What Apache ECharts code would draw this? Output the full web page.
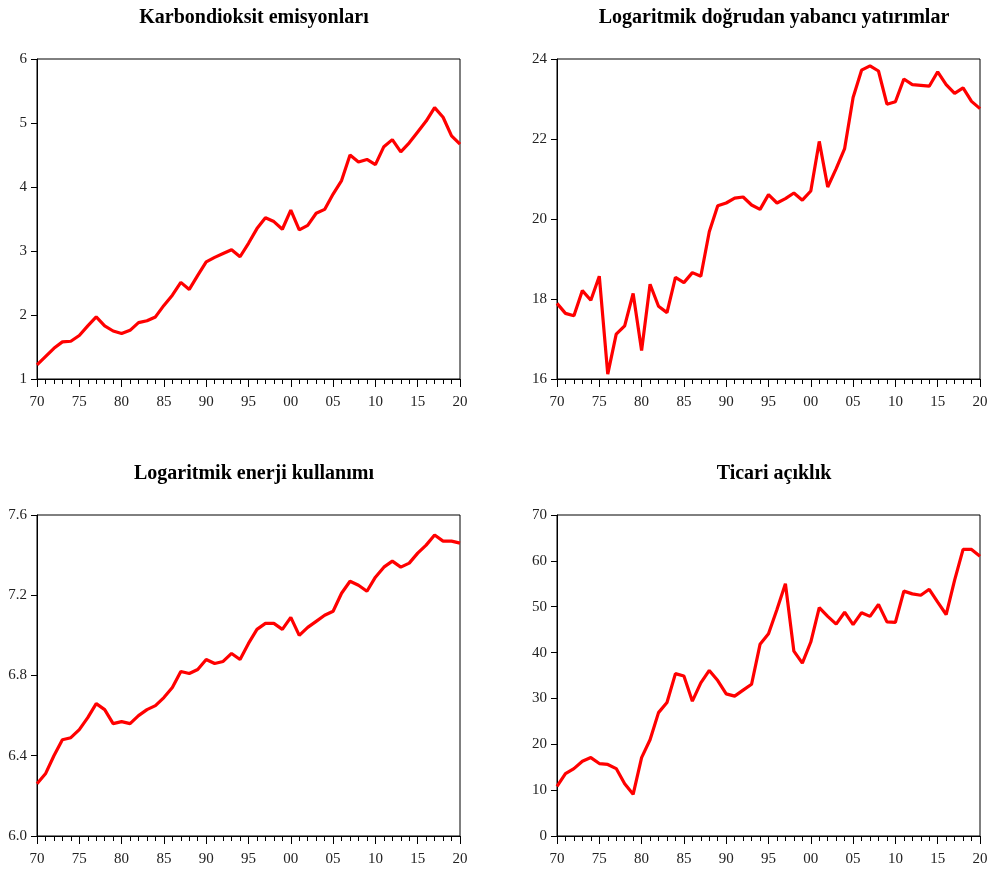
<!DOCTYPE html>
<html>
<head>
<meta charset="utf-8">
<script src="https://cdn.jsdelivr.net/npm/echarts@6/dist/echarts.min.js"></script>
<style>
html,body{margin:0;padding:0;background:#fff;}
#chart{width:992px;height:872px;}
</style>
</head>
<body>
<div id="chart"></div>
<script>
var years = [1970,1971,1972,1973,1974,1975,1976,1977,1978,1979,1980,1981,1982,1983,1984,1985,1986,1987,1988,1989,1990,1991,1992,1993,1994,1995,1996,1997,1998,1999,2000,2001,2002,2003,2004,2005,2006,2007,2008,2009,2010,2011,2012,2013,2014,2015,2016,2017,2018,2019,2020];

var titles = ["Karbondioksit emisyonları","Logaritmik doğrudan yabancı yatırımlar","Logaritmik enerji kullanımı","Ticari açıklık"];

var co2 = [1.22,1.35,1.48,1.58,1.59,1.68,1.83,1.97,1.83,1.75,1.71,1.76,1.88,1.91,1.97,2.15,2.31,2.51,2.40,2.62,2.83,2.90,2.96,3.02,2.91,3.12,3.35,3.52,3.46,3.34,3.64,3.33,3.40,3.59,3.65,3.89,4.10,4.50,4.39,4.43,4.35,4.63,4.74,4.55,4.69,4.86,5.03,5.24,5.09,4.80,4.67];

var fdi = [17.89,17.64,17.58,18.21,17.97,18.57,16.12,17.12,17.33,18.14,16.71,18.37,17.82,17.66,18.54,18.41,18.66,18.57,19.68,20.33,20.40,20.52,20.55,20.35,20.24,20.61,20.40,20.51,20.65,20.47,20.70,21.94,20.80,21.26,21.76,23.04,23.72,23.83,23.70,22.87,22.93,23.50,23.36,23.34,23.32,23.68,23.36,23.14,23.28,22.94,22.76];

var energy = [6.26,6.31,6.40,6.48,6.49,6.53,6.59,6.66,6.63,6.56,6.57,6.56,6.60,6.63,6.65,6.69,6.74,6.82,6.81,6.83,6.88,6.86,6.87,6.91,6.88,6.96,7.03,7.06,7.06,7.03,7.09,7.00,7.04,7.07,7.10,7.12,7.21,7.27,7.25,7.22,7.29,7.34,7.37,7.34,7.36,7.41,7.45,7.50,7.47,7.47,7.46];

var trade = [10.8,13.6,14.7,16.3,17.1,15.8,15.6,14.7,11.4,9.1,17.1,21.0,26.9,29.1,35.4,34.9,29.4,33.4,36.1,33.9,31.0,30.5,31.8,33.1,41.8,44.1,49.4,55.0,40.3,37.7,42.3,49.8,47.9,46.2,48.8,46.1,48.7,47.9,50.5,46.7,46.6,53.4,52.8,52.5,53.8,51.0,48.3,55.8,62.5,62.5,61.0];

var yMin = [1, 16, 6.0, 0];
var yMax = [6, 24, 7.6, 70];
var yInterval = [1, 2, 0.4, 10];
var yDecimals = [0, 0, 1, 0];

var seriesData = [co2, fdi, energy, trade];

var grids = [
  {left: 37, top: 59, width: 423, height: 320},
  {left: 557, top: 59, width: 423, height: 320},
  {left: 37, top: 515, width: 423, height: 321},
  {left: 557, top: 515, width: 423, height: 321}
];
var titlePos = [[249, 3], [769, 3], [249, 459], [769, 459]];

var fontFam = '"Liberation Serif", "Times New Roman", serif';

var option = {
  backgroundColor: '#fff',
  animation: false,
  title: titles.map(function (t, i) {
    return {
      text: t,
      left: titlePos[i][0],
      top: titlePos[i][1],
      textAlign: 'center',
      textStyle: {fontFamily: fontFam, fontWeight: 'bold', fontSize: 20, color: '#000'}
    };
  }),
  grid: grids.map(function (g) {
    return {left: g.left, top: g.top, width: g.width, height: g.height, show: true,
      borderColor: '#000', borderWidth: 1, backgroundColor: 'transparent'};
  }),
  xAxis: grids.map(function (g, i) {
    return {
      type: 'value', gridIndex: i, min: 1970, max: 2020, interval: 5,
      axisLine: {show: true, onZero: false, lineStyle: {color: '#000', width: 1}},
      axisTick: {show: true, length: 8, lineStyle: {color: '#000', width: 1}},
      minorTick: {show: true, splitNumber: 5, length: 5, lineStyle: {color: '#000', width: 1}},
      splitLine: {show: false},
      minorSplitLine: {show: false},
      axisLabel: {
        fontFamily: fontFam, fontSize: 15, color: '#222', margin: 16,
        formatter: function (v) { return String(v).slice(2); }
      }
    };
  }),
  yAxis: grids.map(function (g, i) {
    return {
      type: 'value', gridIndex: i, min: yMin[i], max: yMax[i], interval: yInterval[i],
      axisLine: {show: true, lineStyle: {color: '#000', width: 1}},
      axisTick: {show: true, length: 6, lineStyle: {color: '#000', width: 1}},
      splitLine: {show: false},
      axisLabel: {
        fontFamily: fontFam, fontSize: 15, color: '#222', margin: 10,
        formatter: function (v) { return v.toFixed(yDecimals[i]); }
      }
    };
  }),
  series: seriesData.map(function (arr, i) {
    return {
      type: 'line', xAxisIndex: i, yAxisIndex: i,
      data: years.map(function (y, k) { return [y, arr[k]]; }),
      showSymbol: false, symbol: 'none',
      lineStyle: {color: '#ff0000', width: 3.2},
      clip: false
    };
  })
};

var chart = echarts.init(document.getElementById('chart'), null, {renderer: 'canvas'});
chart.setOption(option);
</script>
</body>
</html>
